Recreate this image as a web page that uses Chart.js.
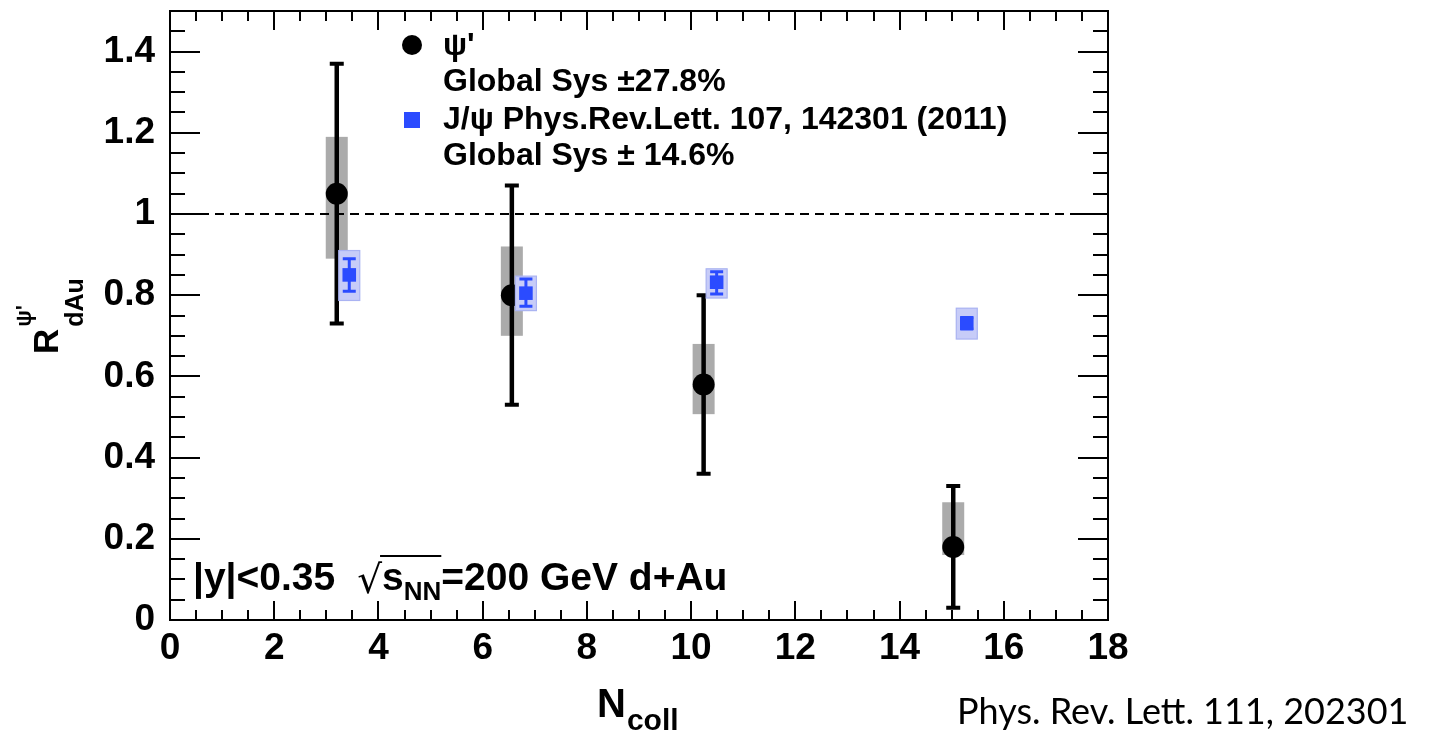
<!DOCTYPE html>
<html><head><meta charset="utf-8">
<script src="https://cdn.jsdelivr.net/npm/chart.js@4/dist/chart.umd.min.js"></script>
<style>html,body{margin:0;padding:0;background:#fff;} #wrap{width:1432px;height:732px;position:relative;}</style>
</head><body><div id="wrap"><canvas id="c" width="1432" height="732"></canvas></div>
<script>
// ---------- data ----------
const psiNcoll   = [3.20, 6.56, 10.24, 15.03];
const psiR       = [1.05, 0.80, 0.58, 0.18];
const psiStatHi  = [1.37, 1.07, 0.80, 0.33];
const psiStatLo  = [0.73, 0.53, 0.36, 0.03];
const psiSysHi   = [1.19, 0.92, 0.68, 0.29];
const psiSysLo   = [0.89, 0.70, 0.507, 0.16];

const jpsiNcoll  = [3.44, 6.83, 10.49, 15.29];
const jpsiR      = [0.85, 0.805, 0.832, 0.731];
const jpsiStatHi = [0.89, 0.84, 0.858, 0.745];
const jpsiStatLo = [0.81, 0.773, 0.803, 0.717];
const jpsiSysHi  = [0.91, 0.847, 0.865, 0.768];
const jpsiSysLo  = [0.787, 0.762, 0.793, 0.692];

const xTickValues = [0, 2, 4, 6, 8, 10, 12, 14, 16, 18];
const xTickLabels = ['0', '2', '4', '6', '8', '10', '12', '14', '16', '18'];
const yTickValues = [0, 0.2, 0.4, 0.6, 0.8, 1, 1.2, 1.4];
const yTickLabels = ['0', '0.2', '0.4', '0.6', '0.8', '1', '1.2', '1.4'];
const referenceLine = 1;

const legendLabels = ["ψ'", 'Global Sys ±27.8%', 'J/ψ Phys.Rev.Lett. 107, 142301 (2011)', 'Global Sys ± 14.6%'];

// ---------- styles ----------
const FONT = '"Liberation Sans", Arial, Helvetica, sans-serif';
const BLUE = '#2b4bff';
const GRAY = '#ababab';
const BLUE_BOX = '#c7ccf8';
const BLUE_BOX_EDGE = '#aab3f2';

function toPts(xs, ys) { return xs.map((x, i) => ({x: x, y: ys[i]})); }

const datasets = [
  {
    label: "J/ψ",
    data: toPts(jpsiNcoll, jpsiR),
    statHi: jpsiStatHi, statLo: jpsiStatLo, sysHi: jpsiSysHi, sysLo: jpsiSysLo,
    sty: {boxHalf: 10.5, boxFill: BLUE_BOX, boxEdge: BLUE_BOX_EDGE, bar: BLUE, barW: 3, capHalf: 6.5, capW: 3},
    pointStyle: 'rect', pointRadius: 9.6, backgroundColor: BLUE, borderColor: BLUE, borderWidth: 0,
    order: 1
  },
  {
    label: "ψ'",
    data: toPts(psiNcoll, psiR),
    statHi: psiStatHi, statLo: psiStatLo, sysHi: psiSysHi, sysLo: psiSysLo,
    sty: {boxHalf: 11, boxFill: GRAY, boxEdge: null, bar: '#000', barW: 4.5, capHalf: 7, capW: 4},
    pointStyle: 'circle', pointRadius: 11, backgroundColor: '#000', borderColor: '#000', borderWidth: 0,
    order: 2
  }
];

const errPlugin = {
  id: 'errs',
  beforeDatasetDraw(chart, args) {
    const ds = chart.data.datasets[args.index];
    const xs = chart.scales.x, ys = chart.scales.y, ctx = chart.ctx, s = ds.sty;
    ctx.save();
    ds.data.forEach((p, i) => {
      const px = xs.getPixelForValue(p.x);
      const yt = ys.getPixelForValue(ds.sysHi[i]), yb = ys.getPixelForValue(ds.sysLo[i]);
      ctx.fillStyle = s.boxFill;
      ctx.fillRect(px - s.boxHalf, yt, 2 * s.boxHalf, yb - yt);
      if (s.boxEdge) { ctx.strokeStyle = s.boxEdge; ctx.lineWidth = 1.2; ctx.strokeRect(px - s.boxHalf, yt, 2 * s.boxHalf, yb - yt); }
    });
    ds.data.forEach((p, i) => {
      const px = xs.getPixelForValue(p.x);
      const yt = ys.getPixelForValue(ds.statHi[i]), yb = ys.getPixelForValue(ds.statLo[i]);
      ctx.strokeStyle = s.bar; ctx.lineWidth = s.barW;
      ctx.beginPath(); ctx.moveTo(px, yt); ctx.lineTo(px, yb); ctx.stroke();
      ctx.lineWidth = s.capW;
      ctx.beginPath();
      ctx.moveTo(px - s.capHalf, yt); ctx.lineTo(px + s.capHalf, yt);
      ctx.moveTo(px - s.capHalf, yb); ctx.lineTo(px + s.capHalf, yb);
      ctx.stroke();
    });
    ctx.restore();
  },
  afterDatasetsDraw(chart) {
    const ys = chart.scales.y, ctx = chart.ctx, a = chart.chartArea;
    const y1 = Math.round(ys.getPixelForValue(referenceLine));
    ctx.save();
    ctx.strokeStyle = '#000'; ctx.lineWidth = 2; ctx.setLineDash([9, 6]);
    ctx.beginPath(); ctx.moveTo(a.left, y1); ctx.lineTo(a.right, y1); ctx.stroke();
    ctx.restore();
  }
};

const framePlugin = {
  id: 'frame',
  afterDraw(chart) {
    const ctx = chart.ctx, a = chart.chartArea, xs = chart.scales.x, ys = chart.scales.y;
    ctx.save();
    ctx.strokeStyle = '#000'; ctx.lineWidth = 2;
    ctx.strokeRect(a.left, a.top, a.right - a.left, a.bottom - a.top);
    ctx.beginPath();
    // x ticks (major every 2, minor every 0.5), bottom & top, inside
    for (let k = 0; k <= 36; k++) {
      const v = k * 0.5, px = Math.round(xs.getPixelForValue(v));
      const len = (k % 4 === 0) ? 19 : 10;
      ctx.moveTo(px, a.bottom); ctx.lineTo(px, a.bottom - len);
      ctx.moveTo(px, a.top); ctx.lineTo(px, a.top + len);
    }
    // y ticks (major every 0.2, minor every 0.05), left & right, inside
    for (let k = 0; k <= 30; k++) {
      const v = k * 0.05, py = Math.round(ys.getPixelForValue(v));
      const len = (k % 4 === 0) ? 30 : 15;
      ctx.moveTo(a.left, py); ctx.lineTo(a.left + len, py);
      ctx.moveTo(a.right, py); ctx.lineTo(a.right - len, py);
    }
    ctx.stroke();

    ctx.fillStyle = '#000';
    // ---- legend ----
    const lx = 412, tx = 443;
    ctx.beginPath(); ctx.arc(lx, 45, 10, 0, 2 * Math.PI); ctx.fill();
    ctx.fillStyle = BLUE; ctx.fillRect(lx - 8, 112, 16, 16);
    ctx.fillStyle = '#000';
    ctx.font = 'bold 32px ' + FONT; ctx.textBaseline = 'middle'; ctx.textAlign = 'left';
    const ly = [46, 82, 120, 156];
    legendLabels.forEach((t, i) => ctx.fillText(t, tx, ly[i]));

    // ---- annotation ----
    ctx.textBaseline = 'alphabetic';
    let x = 193; const base = 590;
    ctx.font = 'bold 39px ' + FONT;
    ctx.fillText('|y|<0.35', x, base);
    x += ctx.measureText('|y|<0.35').width + 22;
    ctx.font = '39px "DejaVu Sans", ' + FONT;
    ctx.fillText('√', x, base + 3);
    const sqw = ctx.measureText('√').width;
    const barStart = x + sqw - 2;
    x += sqw;
    ctx.font = 'bold 39px ' + FONT;
    ctx.fillText('s', x, base);
    x += ctx.measureText('s').width;
    ctx.font = 'bold 26px ' + FONT;
    ctx.fillText('NN', x, base + 10);
    x += ctx.measureText('NN').width;
    ctx.fillRect(barStart, base - 35, x - barStart, 2);
    ctx.font = 'bold 39px ' + FONT;
    ctx.fillText('=200 GeV d+Au', x, base);

    // ---- x title ----
    ctx.font = 'bold 40px ' + FONT;
    ctx.fillText('N', 597, 717);
    const nw = ctx.measureText('N').width;
    ctx.font = 'bold 30px ' + FONT;
    ctx.fillText('coll', 597 + nw + 1, 730);

    // ---- y title (rotated) ----
    ctx.save();
    ctx.translate(58, 354); ctx.rotate(-Math.PI / 2);
    ctx.font = 'bold 35px ' + FONT;
    ctx.fillText('R', 0, 0);
    const rw = ctx.measureText('R').width;
    ctx.font = 'bold 25px ' + FONT;
    ctx.fillText('dAu', rw + 2, 25);
    ctx.font = 'bold 22px ' + FONT;
    ctx.fillText("ψ'", rw + 2, -27);
    ctx.restore();

    // ---- citation ----
    ctx.font = '36px Lato, "Open Sans", sans-serif';
    ctx.fillText('Phys. Rev. Lett. 111, 202301', 957, 724);
    ctx.restore();
  }
};

new Chart(document.getElementById('c'), {
  type: 'scatter',
  data: {datasets: datasets},
  options: {
    responsive: false, animation: false, devicePixelRatio: 1,
    layout: {padding: {top: 11, right: 324, left: 0, bottom: 0}},
    plugins: {legend: {display: false}, tooltip: {enabled: false}},
    scales: {
      x: {
        type: 'linear', min: 0, max: 18,
        grid: {display: false, drawTicks: false}, border: {display: false},
        afterFit(s) { s.height = 112; s.paddingLeft = 0; s.paddingRight = 0; },
        afterBuildTicks(s) { s.ticks = xTickValues.map(v => ({value: v})); },
        ticks: {
          padding: 7, color: '#000', maxRotation: 0, autoSkip: false,
          font: {family: FONT, size: 37, weight: 'bold'},
          callback: (v) => { const i = xTickValues.indexOf(v); return i >= 0 ? xTickLabels[i] : ''; }
        }
      },
      y: {
        type: 'linear', min: 0, max: 1.5,
        grid: {display: false, drawTicks: false}, border: {display: false},
        afterFit(s) { s.width = 170; s.paddingTop = 0; s.paddingBottom = 0; },
        afterBuildTicks(s) { s.ticks = yTickValues.map(v => ({value: v})); },
        ticks: {
          padding: 15, color: '#000', autoSkip: false,
          font: {family: FONT, size: 37, weight: 'bold'},
          callback: (v) => { const i = yTickValues.findIndex(t => Math.abs(t - v) < 1e-9); return i >= 0 ? yTickLabels[i] : ''; }
        }
      }
    }
  },
  plugins: [errPlugin, framePlugin]
});
</script>
</body></html>
